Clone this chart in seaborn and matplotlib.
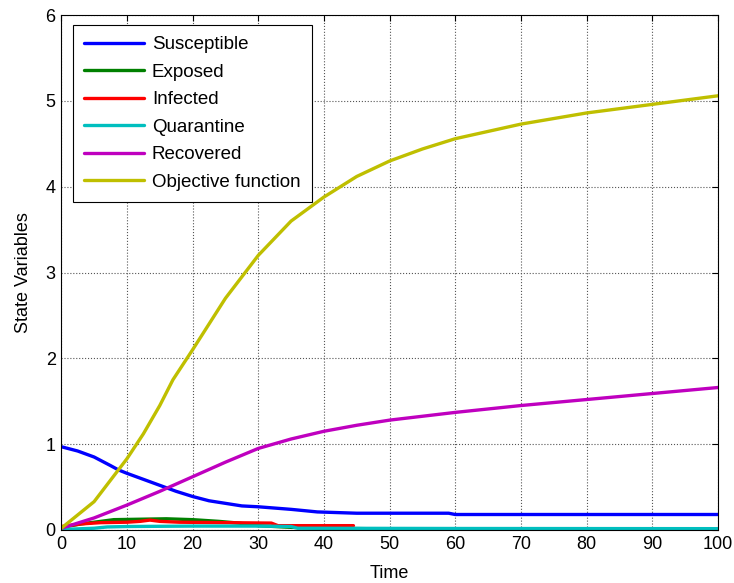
import numpy as np
import pandas as pd
import matplotlib
matplotlib.use("Agg")
import matplotlib.pyplot as plt
import seaborn as sns

# ---- data ----
t_sus = [0, 2.5, 5, 7.5, 8.7, 10, 12.5, 15, 17.5, 20, 22.5, 25, 27.5, 30, 35, 39, 45, 50, 59, 60, 70, 80, 90, 100]
susceptible = [0.97, 0.92, 0.85, 0.75, 0.70, 0.66, 0.59, 0.52, 0.45, 0.39, 0.34, 0.31, 0.28, 0.27, 0.24, 0.21, 0.195, 0.195, 0.195, 0.18, 0.18, 0.18, 0.18, 0.18]

t_exp = [0, 3, 6, 8, 12, 16, 20, 24, 27, 30, 35, 40, 50, 60, 80, 100]
exposed = [0.03, 0.07, 0.10, 0.12, 0.125, 0.13, 0.12, 0.10, 0.08, 0.05, 0.03, 0.02, 0.012, 0.01, 0.008, 0.006]

t_inf = [0, 3, 6, 10, 12, 13.5, 15, 18, 25, 32, 33, 44.5]
infected = [0.04, 0.07, 0.085, 0.09, 0.10, 0.115, 0.10, 0.09, 0.085, 0.08, 0.05, 0.05]

t_qua = [0, 5, 7, 10, 20, 30, 35, 36, 60, 100]
quarantine = [0.005, 0.02, 0.035, 0.04, 0.045, 0.045, 0.04, 0.02, 0.017, 0.015]

t_rec = [0, 5, 10, 15, 20, 25, 30, 35, 40, 45, 50, 60, 70, 80, 90, 100]
recovered = [0.02, 0.14, 0.29, 0.45, 0.62, 0.79, 0.95, 1.06, 1.15, 1.22, 1.28, 1.37, 1.45, 1.52, 1.59, 1.66]

t_obj = [0, 5, 8.7, 10, 12.5, 15, 17, 20, 25, 30, 35, 40, 45, 50, 55, 60, 70, 80, 90, 100]
objective = [0.02, 0.33, 0.70, 0.83, 1.12, 1.45, 1.75, 2.1, 2.7, 3.2, 3.6, 3.88, 4.12, 4.3, 4.44, 4.56, 4.73, 4.86, 4.96, 5.06]

names = ["Susceptible", "Exposed", "Infected", "Quarantine", "Recovered", "Objective function"]
colors = ["#0000ff", "#008000", "#ff0000", "#00bfbf", "#bf00bf", "#bfbf00"]

frames = []
for name, tt, vv in zip(names,
                        [t_sus, t_exp, t_inf, t_qua, t_rec, t_obj],
                        [susceptible, exposed, infected, quarantine, recovered, objective]):
    frames.append(pd.DataFrame({"Time": tt, "Value": vv, "Series": name}))
df = pd.concat(frames, ignore_index=True)

sns.set_style("white")
plt.rcParams["font.family"] = ["Liberation Sans", "DejaVu Sans"]
plt.rcParams["text.color"] = "black"
plt.rcParams["axes.labelcolor"] = "black"

fig = plt.figure(figsize=(7.34, 5.83), dpi=100)
ax = fig.add_axes([0.0835, 0.091, 0.8945, 0.883])

sns.lineplot(data=df, x="Time", y="Value", hue="Series", hue_order=names,
             palette=colors, linewidth=2.4, ax=ax, sort=True, estimator=None)

ax.set_xlim(0, 100)
ax.set_ylim(0, 6)
ax.set_xticks(np.arange(0, 101, 10))
ax.set_yticks(np.arange(0, 7, 1))
ax.grid(True, linestyle=":", color="#555555", linewidth=0.8)
ax.tick_params(direction="in", length=4, width=0.8, top=True, right=True,
               labelsize=13, pad=4, colors="black")
for s in ax.spines.values():
    s.set_visible(True)
    s.set_color("black")
    s.set_linewidth(0.8)
ax.set_xlabel("Time", fontsize=13, labelpad=9, color="black")
ax.set_ylabel("State Variables", fontsize=13, labelpad=10, color="black")

leg = ax.legend(loc="upper left", bbox_to_anchor=(0.018, 0.981), fontsize=13.5,
                frameon=True, fancybox=False, edgecolor="black", framealpha=1,
                handlelength=3.2, borderaxespad=0, labelspacing=0.55,
                handletextpad=0.4, borderpad=0.6)
leg.get_frame().set_linewidth(0.8)
for txt in leg.get_texts():
    txt.set_color("black")

fig.savefig("out.png", dpi=100)
